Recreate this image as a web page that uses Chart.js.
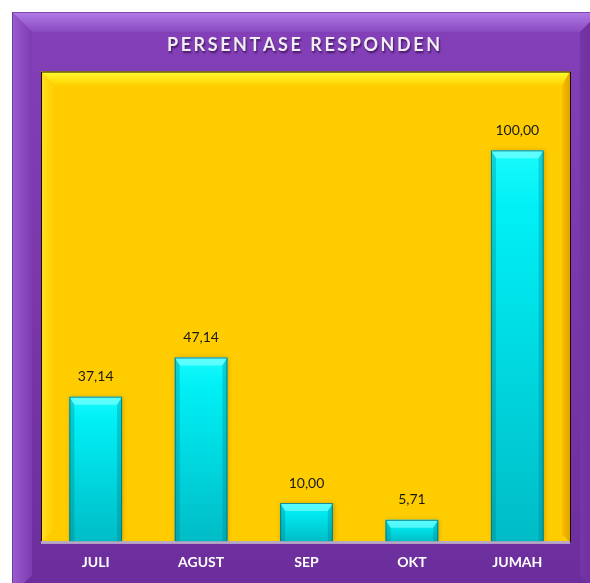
<!DOCTYPE html>
<html>
<head>
<meta charset="utf-8">
<script src="https://cdn.jsdelivr.net/npm/chart.js@4/dist/chart.umd.min.js"></script>
<style>
  html, body { margin: 0; padding: 0; background: #ffffff; }
  #wrap { width: 590px; height: 583px; }
</style>
</head>
<body>
<div id="wrap"><canvas id="c" width="590" height="583"></canvas></div>
<script>
const chartTitle = "PERSENTASE RESPONDEN";
const categories = ["JULI", "AGUST", "SEP", "OKT", "JUMAH"];
const percentValues = [37.14, 47.14, 10.00, 5.71, 100.00];
const yAxisMax = 120;

function fmt(v) { return v.toFixed(2).replace('.', ','); }

const framePlugin = {
  id: 'frame',
  beforeDraw(chart) {
    const ctx = chart.ctx;
    const W = chart.width, H = chart.height;
    ctx.save();
    ctx.fillStyle = '#ffffff';
    ctx.fillRect(0, 0, W, H);
    const x0 = 12, y0 = 12, x1 = 600, y1 = 595, b = 20;
    let g = ctx.createLinearGradient(0, y0, 0, y1);
    g.addColorStop(0, '#8440b8');
    g.addColorStop(0.5, '#7a36aa');
    g.addColorStop(1, '#6c2e9c');
    ctx.fillStyle = g;
    ctx.fillRect(x0, y0, x1 - x0, y1 - y0);
    g = ctx.createLinearGradient(0, y0, 0, y0 + b);
    g.addColorStop(0, '#b27ce8');
    g.addColorStop(1, '#8a4abf');
    ctx.fillStyle = g;
    ctx.beginPath();
    ctx.moveTo(x0, y0); ctx.lineTo(x1, y0); ctx.lineTo(x1 - b, y0 + b); ctx.lineTo(x0 + b, y0 + b); ctx.closePath();
    ctx.fill();
    g = ctx.createLinearGradient(x0, 0, x0 + b, 0);
    g.addColorStop(0, '#9a5cd0');
    g.addColorStop(1, '#7e3cb0');
    ctx.fillStyle = g;
    ctx.beginPath();
    ctx.moveTo(x0, y0); ctx.lineTo(x0 + b, y0 + b); ctx.lineTo(x0 + b, y1 - b); ctx.lineTo(x0, y1); ctx.closePath();
    ctx.fill();
    g = ctx.createLinearGradient(x1 - b, 0, x1, 0);
    g.addColorStop(0, '#7636a6');
    g.addColorStop(1, '#6a2c98');
    ctx.fillStyle = g;
    ctx.beginPath();
    ctx.moveTo(x1, y0); ctx.lineTo(x1 - b, y0 + b); ctx.lineTo(x1 - b, y1 - b); ctx.lineTo(x1, y1); ctx.closePath();
    ctx.fill();
    ctx.strokeStyle = 'rgba(90,40,130,0.6)';
    ctx.lineWidth = 1;
    ctx.strokeRect(x0 + 0.5, y0 + 0.5, x1 - x0, y1 - y0);

    const a = chart.chartArea;
    const px0 = a.left - 2, px1 = a.right, py0 = a.top - 0.5, py1 = a.bottom;
    ctx.fillStyle = '#ffcc00';
    ctx.fillRect(px0, py0, px1 - px0, py1 - py0);
    const pb = 14;
    g = ctx.createLinearGradient(0, py0, 0, py0 + pb);
    g.addColorStop(0, '#ffff30');
    g.addColorStop(1, '#ffd000');
    ctx.fillStyle = g;
    ctx.beginPath();
    ctx.moveTo(px0, py0); ctx.lineTo(px1, py0); ctx.lineTo(px1 - 8, py0 + pb); ctx.lineTo(px0 + pb, py0 + pb); ctx.closePath();
    ctx.fill();
    g = ctx.createLinearGradient(px0, 0, px0 + pb, 0);
    g.addColorStop(0, '#ffe020');
    g.addColorStop(1, '#ffcc00');
    ctx.fillStyle = g;
    ctx.beginPath();
    ctx.moveTo(px0, py0); ctx.lineTo(px0 + pb, py0 + pb); ctx.lineTo(px0 + pb, py1 - pb); ctx.lineTo(px0, py1); ctx.closePath();
    ctx.fill();
    g = ctx.createLinearGradient(px1 - 8, 0, px1, 0);
    g.addColorStop(0, '#f8bf00');
    g.addColorStop(1, '#e0a400');
    ctx.fillStyle = g;
    ctx.beginPath();
    ctx.moveTo(px1, py0); ctx.lineTo(px1 - 8, py0 + pb); ctx.lineTo(px1 - 8, py1 - 8); ctx.lineTo(px1, py1); ctx.closePath();
    ctx.fill();
    ctx.strokeStyle = '#1a1000';
    ctx.lineWidth = 1;
    ctx.beginPath();
    ctx.moveTo(px0 + 0.5, py1); ctx.lineTo(px0 + 0.5, py0 + 0.5); ctx.lineTo(px1 + 0.5, py0 + 0.5); ctx.lineTo(px1 + 0.5, py1);
    ctx.stroke();
    ctx.fillStyle = '#b7a9c6';
    ctx.fillRect(px0, py1 - 1, px1 - px0, 2.5);

    ctx.font = 'bold 18px Lato';
    ctx.textBaseline = 'middle';
    ctx.textAlign = 'left';
    const chars = chartTitle.split('');
    const widths = chars.map(ch => ctx.measureText(ch).width);
    const natural = widths.reduce((s, w) => s + w, 0);
    const targetW = 273;
    const sp = (targetW - natural) / (chars.length - 1);
    let x = 303.5 - targetW / 2;
    ctx.shadowColor = 'rgba(30,0,50,0.65)';
    ctx.shadowOffsetX = 1;
    ctx.shadowOffsetY = 2;
    ctx.shadowBlur = 2;
    ctx.fillStyle = '#f0eef2';
    chars.forEach((ch, i) => { ctx.fillText(ch, x, 45.5); x += widths[i] + sp; });
    ctx.restore();
  },
  beforeDatasetsDraw(chart) {
    const ctx = chart.ctx;
    ctx.save();
    ctx.shadowColor = 'rgba(120,70,0,0.35)';
    ctx.shadowBlur = 5;
    ctx.shadowOffsetX = 1;
    ctx.shadowOffsetY = 0;
  },
  afterDatasetsDraw(chart) {
    const ctx = chart.ctx;
    ctx.restore();
    ctx.save();
    const meta = chart.getDatasetMeta(0);
    meta.data.forEach((el, i) => {
      const l = el.x - el.width / 2, r = el.x + el.width / 2, t = el.y, bt = el.base;
      const cap = Math.min(8, (bt - t) / 2);
      ctx.fillStyle = 'rgba(140,255,255,0.6)';
      ctx.beginPath();
      ctx.moveTo(l, t); ctx.lineTo(r, t); ctx.lineTo(r - 5, t + cap); ctx.lineTo(l + 5, t + cap); ctx.closePath();
      ctx.fill();
      ctx.fillStyle = 'rgba(0,120,130,0.3)';
      ctx.beginPath();
      ctx.moveTo(l, t); ctx.lineTo(l + 5, t + cap); ctx.lineTo(l + 5, bt); ctx.lineTo(l, bt); ctx.closePath();
      ctx.fill();
      ctx.beginPath();
      ctx.moveTo(r, t); ctx.lineTo(r - 5, t + cap); ctx.lineTo(r - 5, bt); ctx.lineTo(r, bt); ctx.closePath();
      ctx.fill();
      ctx.strokeStyle = 'rgba(0,110,120,0.8)';
      ctx.lineWidth = 1;
      ctx.strokeRect(l + 0.5, t + 0.5, el.width - 1, bt - t - 1);
      ctx.fillStyle = '#1a1a1a';
      ctx.font = '14px Lato';
      ctx.textAlign = 'center';
      ctx.textBaseline = 'middle';
      ctx.fillText(fmt(percentValues[i]), el.x, t - 20);
    });
    const a = chart.chartArea;
    ctx.fillStyle = '#b7a9c6';
    ctx.fillRect(a.left - 2, a.bottom - 1, a.right - a.left + 2, 2.5);
    ctx.restore();
  }
};

function barFill(context) {
  const chart = context.chart;
  const ys = chart.scales && chart.scales.y;
  if (!ys || context.raw === undefined) return '#00e0e8';
  const top = ys.getPixelForValue(context.raw);
  const bottom = ys.getPixelForValue(0);
  if (!isFinite(top) || !isFinite(bottom) || top === bottom) return '#00e0e8';
  const g = chart.ctx.createLinearGradient(0, top, 0, bottom);
  g.addColorStop(0, '#18fbfc');
  g.addColorStop(0.15, '#00f0f6');
  g.addColorStop(1, '#00bcc6');
  return g;
}

new Chart(document.getElementById('c'), {
  type: 'bar',
  data: {
    labels: categories,
    datasets: [{
      data: percentValues,
      backgroundColor: barFill,
      borderWidth: 0,
      categoryPercentage: 1.0,
      barPercentage: 0.5
    }]
  },
  options: {
    responsive: false,
    devicePixelRatio: 1,
    animation: false,
    layout: { padding: { left: 43, right: 20, top: 72, bottom: 0 } },
    plugins: { legend: { display: false }, tooltip: { enabled: false }, title: { display: false } },
    scales: {
      y: { display: false, min: 0, max: yAxisMax },
      x: {
        grid: { display: false, drawTicks: false },
        border: { display: false },
        ticks: { color: '#ffffff', font: { family: 'Lato', weight: 'bold', size: 14 }, padding: 12, maxRotation: 0 }
      }
    }
  },
  plugins: [framePlugin]
});
</script>
</body>
</html>
